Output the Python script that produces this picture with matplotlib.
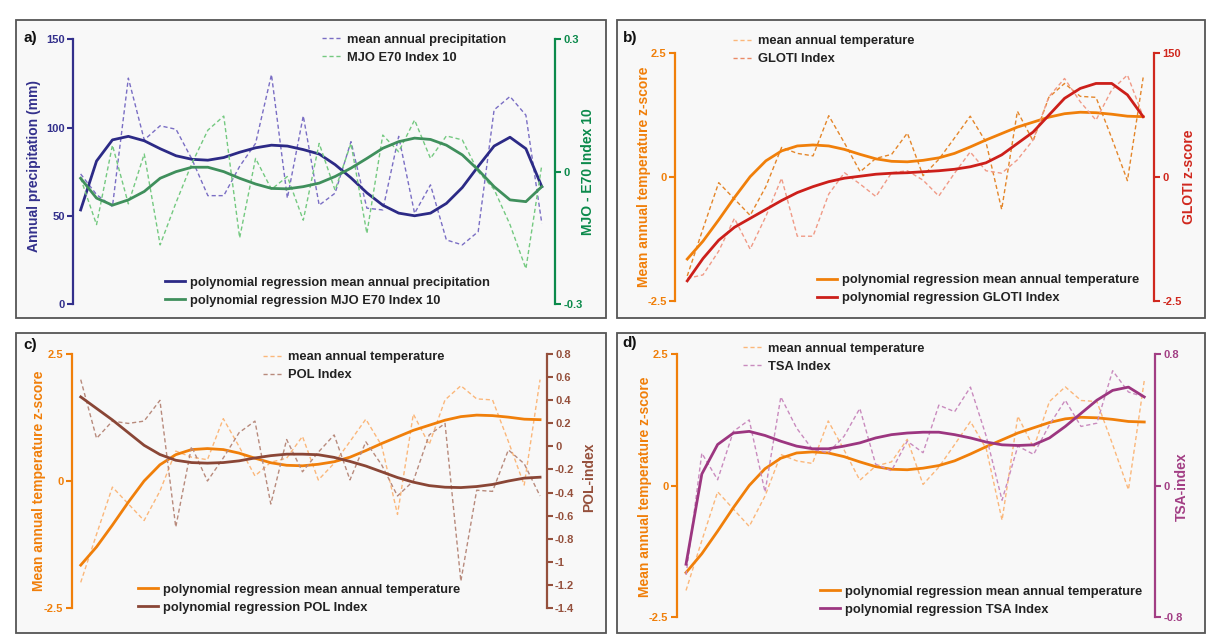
import numpy as np
import matplotlib
matplotlib.use('Agg')
import matplotlib.pyplot as plt
from matplotlib.patches import Rectangle
from matplotlib.lines import Line2D

plt.rcParams['font.family'] = ['Liberation Sans Narrow', 'Liberation Sans', 'DejaVu Sans']
plt.rcParams['font.weight'] = 'bold'

# Datos (30 años)
anos = np.arange(30)

precip = [73.7, 62, 55.2, 128, 93, 101, 99, 82, 61.4, 61.4, 78, 91, 130, 60, 106.6,
          56, 62.8, 92, 54.3, 53.3, 95, 51.4, 67.5, 36.3, 33.5, 41, 110, 117.6, 107, 45.7]
precip_reg = [53.3, 81, 93, 95, 92.5, 88, 84, 82, 81.5, 83, 86, 88.5, 90, 89.5, 87.5,
              85, 79, 71.5, 63, 56, 51.5, 50, 51.5, 57, 66, 78, 89.5, 94.5, 88, 66.5]
mjo = [-0.015, -0.12, 0.06, -0.073, 0.04, -0.166, -0.07, 0.019, 0.094, 0.126, -0.15, 0.03,
       -0.04, -0.011, -0.11, 0.064, -0.042, 0.064, -0.14, 0.083, 0.045, 0.117, 0.03, 0.081,
       0.072, 0.0, -0.04, -0.12, -0.22, 0.015]
mjo_reg = [-0.015, -0.06, -0.076, -0.064, -0.045, -0.015, 0.0, 0.01, 0.01, 0.0, -0.015,
           -0.028, -0.038, -0.039, -0.034, -0.026, -0.011, 0.008, 0.03, 0.053, 0.068, 0.076,
           0.073, 0.06, 0.038, 0.004, -0.034, -0.064, -0.068, -0.034]

temp = [-2.0, -1.05, -0.12, -0.45, -0.78, -0.2, 0.59, 0.47, 0.42, 1.23, 0.68, 0.1, 0.37, 0.45,
        0.88, 0.02, 0.35, 0.78, 1.22, 0.7, -0.66, 1.32, 0.72, 1.6, 1.88, 1.62, 1.6, 0.78, -0.08, 2.0]
temp_reg = [-1.66, -1.3, -0.87, -0.42, 0.0, 0.32, 0.52, 0.62, 0.64, 0.62, 0.55, 0.45, 0.36, 0.31,
            0.3, 0.33, 0.38, 0.47, 0.6, 0.74, 0.87, 1.0, 1.1, 1.2, 1.27, 1.3, 1.29, 1.26, 1.22, 1.21]

gloti = [-2.05, -1.98, -1.5, -0.84, -1.46, -0.8, -0.03, -1.2, -1.2, -0.35, 0.08, -0.15, -0.4,
         0.08, 0.12, -0.07, -0.39, 0.07, 0.5, 0.12, 0.07, 0.34, 0.74, 1.61, 1.98, 1.51, 1.14,
         1.75, 2.05, 1.21]
gloti_reg = [-2.1, -1.65, -1.28, -1.02, -0.84, -0.66, -0.48, -0.32, -0.2, -0.1, -0.03, 0.01, 0.05,
             0.07, 0.08, 0.1, 0.12, 0.15, 0.2, 0.28, 0.44, 0.67, 0.9, 1.24, 1.58, 1.78, 1.88,
             1.88, 1.65, 1.21]

pol = [0.58, 0.07, 0.22, 0.2, 0.22, 0.4, -0.7, 0.0, -0.3, -0.1, 0.12, 0.22, -0.5, 0.06, -0.22,
       -0.05, 0.1, -0.29, 0.04, -0.16, -0.43, -0.3, 0.1, 0.2, -1.17, -0.38, -0.39, -0.03, -0.15, -0.43]
pol_reg = [0.43, 0.33, 0.23, 0.12, 0.01, -0.07, -0.12, -0.14, -0.145, -0.14, -0.125, -0.1, -0.08,
           -0.067, -0.067, -0.072, -0.095, -0.13, -0.17, -0.22, -0.27, -0.31, -0.34, -0.354,
           -0.357, -0.348, -0.33, -0.3, -0.275, -0.267]

tsa = [-0.545, 0.197, 0.035, 0.33, 0.4, -0.04, 0.54, 0.35, 0.22, 0.2, 0.3, 0.47, 0.13, 0.09,
       0.27, 0.2, 0.49, 0.45, 0.6, 0.3, -0.09, 0.24, 0.19, 0.37, 0.52, 0.36, 0.38, 0.7, 0.57, 0.54]
tsa_reg = [-0.48, 0.07, 0.25, 0.32, 0.33, 0.305, 0.27, 0.24, 0.224, 0.224, 0.24, 0.26, 0.29, 0.31,
           0.32, 0.325, 0.325, 0.31, 0.29, 0.265, 0.248, 0.244, 0.248, 0.29, 0.36, 0.44, 0.52,
           0.58, 0.6, 0.54]

# Colores
NAVY, NAVY_D = '#2c2a86', '#7a6ec4'
VERDE, VERDE_D, VERDE_AX = '#3f8f5c', '#74c980', '#0b8a4b'
NARANJA, NARANJA_D, NARANJA_CLARO = '#f07f0a', '#e4862a', '#fbb77a'
ROJO, ROJO_D = '#cc1f1a', '#f09a86'
MARRON, MARRON_D = '#8a4636', '#b88a7c'
MORADO, MORADO_D = '#9c3680', '#c98bbe'

W, H = 1208, 640
fig = plt.figure(figsize=(W / 100, H / 100), dpi=100)


def caja(x0, y0, x1, y1):
    return [x0 / W, 1 - y1 / H, (x1 - x0) / W, (y1 - y0) / H]


# Marcos de los paneles
for x0, y0, x1, y1 in [(16, 20, 606, 318), (617, 20, 1205, 318),
                       (16, 333, 606, 633), (617, 333, 1205, 633)]:
    fig.add_artist(Rectangle((x0 / W, 1 - y1 / H), (x1 - x0) / W, (y1 - y0) / H,
                             transform=fig.transFigure, facecolor='#f8f8f8',
                             edgecolor='#555555', lw=1.3, zorder=-1))


def fmt(v):
    v = round(v, 2)
    if v == 0:
        return '0'
    return f'{v:g}'


def ejes(pos, xlim, ylim, yticks, col_l, ylim2, yticks2, col_r, labels2=None):
    ax = fig.add_axes(caja(*pos))
    ax2 = ax.twinx()
    for a in (ax, ax2):
        a.set_facecolor('none')
        a.set_xlim(xlim)
        a.set_xticks([])
        for s in ('top', 'bottom', 'left', 'right'):
            a.spines[s].set_visible(False)
    ax.set_ylim(ylim)
    ax2.set_ylim(ylim2)
    ax.spines['left'].set_visible(True)
    ax.spines['left'].set_color(col_l)
    ax.spines['left'].set_linewidth(1.6)
    ax.spines['left'].set_bounds(ylim[0], ylim[1])
    ax2.spines['right'].set_visible(True)
    ax2.spines['right'].set_color(col_r)
    ax2.spines['right'].set_linewidth(1.6)
    ax2.spines['right'].set_bounds(ylim2[0], ylim2[1])
    ax.set_yticks(yticks)
    ax.set_yticklabels([fmt(v) for v in yticks])
    ax2.set_yticks(yticks2)
    ax2.set_yticklabels(labels2 if labels2 else [fmt(v) for v in yticks2])
    ax.tick_params(axis='y', direction='out', length=4, width=1.5, colors=col_l,
                   labelsize=8, pad=2)
    ax2.tick_params(axis='y', direction='out', length=4, width=1.5, colors=col_r,
                    labelsize=8, pad=2)
    return ax, ax2


def leyenda(handles, labels, x, y_top):
    fig.legend(handles, labels, loc='upper left', bbox_to_anchor=(x / W, 1 - y_top / H),
               frameon=False, borderpad=0, borderaxespad=0, handlelength=1.55,
               handletextpad=0.39, labelspacing=0.47, fontsize=9.3, labelcolor='#222222')


def etiqueta(x, y, texto, color):
    fig.text(x / W, 1 - y / H, texto, rotation=90, ha='center', va='center',
             color=color, fontsize=10, fontweight='bold')


LW_R, LW_D = 2.0, 1.0
DASH = (3, 2)

# a) precipitación y MJO
ax, ax2 = ejes((73, 39.3, 555, 304), (-0.48, 29.83), (0, 150), [0, 50, 100, 150], '#33308c',
               (-0.3, 0.3), [-0.3, 0, 0.3], VERDE_AX)
l1, = ax.plot(anos, precip, color=NAVY_D, lw=LW_D, dashes=DASH)
l2, = ax2.plot(anos, mjo, color=VERDE_D, lw=LW_D, dashes=DASH)
r1, = ax.plot(anos, precip_reg, color=NAVY, lw=LW_R)
r2, = ax2.plot(anos, mjo_reg, color=VERDE, lw=LW_R)
leyenda([l1, l2], ['mean annual precipitation', 'MJO E70 Index 10'], 321.7, 33.5)
leyenda([r1, r2], ['polynomial regression mean annual precipitation',
                   'polynomial regression MJO E70 Index 10'], 165, 276.8)
etiqueta(34.5, 166, 'Annual precipitation (mm)', '#33308c')
etiqueta(588, 172, 'MJO - E70 Index 10', VERDE_AX)
fig.text(23 / W, 1 - 38 / H, 'a)', fontsize=11, fontweight='bold', va='center', color='#111111')

# b) temperatura y GLOTI
ax, ax2 = ejes((675, 52.7, 1154, 300.7), (-0.78, 29.69), (-2.5, 2.5), [-2.5, 0, 2.5], NARANJA,
               (-2.5, 2.5), [-2.5, 0, 2.5], '#d0281e', labels2=['-2.5', '0', '150'])
ax.plot(anos, temp, color=NARANJA_D, lw=LW_D, dashes=DASH)
ax2.plot(anos, gloti, color=ROJO_D, lw=LW_D, dashes=DASH)
r1, = ax.plot(anos, temp_reg, color=NARANJA, lw=LW_R)
r2, = ax2.plot(anos, gloti_reg, color=ROJO, lw=LW_R)
h1 = Line2D([], [], color=NARANJA_CLARO, lw=LW_D, dashes=DASH)
h2 = Line2D([], [], color='#ea8a66', lw=LW_D, dashes=DASH)
leyenda([h1, h2], ['mean annual temperature', 'GLOTI Index'], 733.3, 35.2)
leyenda([r1, r2], ['polynomial regression mean annual temperature',
                   'polynomial regression GLOTI Index'], 816.7, 274.2)
etiqueta(644, 177, 'Mean annual temperature z-score', NARANJA)
etiqueta(1189, 177, 'GLOTI z-score', '#d0281e')
fig.text(623 / W, 1 - 38 / H, 'b)', fontsize=11, fontweight='bold', va='center', color='#111111')

# c) temperatura y POL
ax, ax2 = ejes((71.7, 354.3, 546.7, 607.7), (-0.57, 29.42), (-2.5, 2.5), [-2.5, 0, 2.5],
               NARANJA, (-1.4, 0.8), list(np.round(np.arange(-1.4, 0.81, 0.2), 1)), '#95503c')
l1, = ax.plot(anos, temp, color=NARANJA_CLARO, lw=LW_D, dashes=DASH)
l2, = ax2.plot(anos, pol, color=MARRON_D, lw=LW_D, dashes=DASH)
r1, = ax.plot(anos, temp_reg, color=NARANJA, lw=LW_R)
r2, = ax2.plot(anos, pol_reg, color=MARRON, lw=LW_R)
leyenda([l1, l2], ['mean annual temperature', 'POL Index'], 263.3, 351.2)
leyenda([r1, r2], ['polynomial regression mean annual temperature',
                   'polynomial regression POL Index'], 138.3, 583.5)
etiqueta(38.5, 481, 'Mean annual temperature z-score', NARANJA)
etiqueta(589, 477, 'POL-index', '#95503c')
fig.text(23 / W, 1 - 345 / H, 'c)', fontsize=11, fontweight='bold', va='center', color='#111111')

# d) temperatura y TSA
ax, ax2 = ejes((676.7, 354.3, 1155, 616.7), (-0.59, 29.68), (-2.5, 2.5), [-2.5, 0, 2.5],
               NARANJA, (-0.8, 0.8), [-0.8, 0, 0.8], '#a23e84')
l1, = ax.plot(anos, temp, color=NARANJA_CLARO, lw=LW_D, dashes=DASH)
l2, = ax2.plot(anos, tsa, color=MORADO_D, lw=LW_D, dashes=DASH)
r1, = ax.plot(anos, temp_reg, color=NARANJA, lw=LW_R)
r2, = ax2.plot(anos, tsa_reg, color=MORADO, lw=LW_R)
leyenda([l1, l2], ['mean annual temperature', 'TSA Index'], 743.3, 342.5)
leyenda([r1, r2], ['polynomial regression mean annual temperature',
                   'polynomial regression TSA Index'], 820, 585.8)
etiqueta(644.5, 487, 'Mean annual temperature z-score', NARANJA)
etiqueta(1182, 487, 'TSA-index', '#a23e84')
fig.text(622 / W, 1 - 343 / H, 'd)', fontsize=11, fontweight='bold', va='center', color='#111111')

fig.savefig('out.png', dpi=100)
